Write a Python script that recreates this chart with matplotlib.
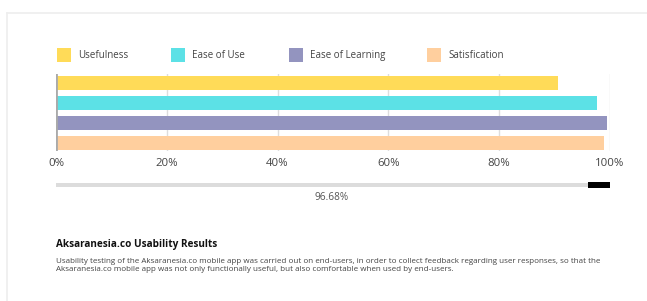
import matplotlib.pyplot as plt
from matplotlib.patches import Rectangle
import numpy as np

plt.rcParams['font.family'] = ['Open Sans', 'DejaVu Sans']

# data
categories = ['Usefulness', 'Ease of Use', 'Ease of Learning', 'Satisfication']
values = [90.7, 97.6, 99.4, 99.0]
colors = ['#FFDB58', '#5CE1E6', '#9394BF', '#FFCF9E']
xticks = [0, 20, 40, 60, 80, 100]
score = np.mean(values)
thumb = [96, 100]
title = 'Aksaranesia.co Usability Results'
desc = ['Usability testing of the Aksaranesia.co mobile app was carried out on end-users, in order to collect feedback regarding user responses, so that the',
        'Aksaranesia.co mobile app was not only functionally useful, but also comfortable when used by end-users.']

W, H = 647, 301
fig = plt.figure(figsize=(W / 100, H / 100), dpi=100)
fig.patch.set_facecolor('white')

def fx(px):
    return px / W

def fy(py):
    return 1 - py / H

# card border
fig.add_artist(plt.Line2D([fx(7), 1], [fy(13), fy(13)], color='#eeeeee', lw=1.2))
fig.add_artist(plt.Line2D([fx(7), fx(7)], [fy(13), 0], color='#eeeeee', lw=1.2))

# legend drawn by hand
leg_x = [57, 171, 289, 427]
for lx, lab, c in zip(leg_x, categories, colors):
    fig.add_artist(Rectangle((fx(lx), fy(62)), fx(14), 14 / H, color=c, lw=0))
    fig.text(fx(lx + 21), fy(55.5), lab, fontsize=7, color='#444444', va='center')

# bars
ax = fig.add_axes([fx(56), fy(151), fx(554), 77 / H])
y = np.arange(len(categories))
ax.barh(y, values, height=0.7, color=colors, zorder=3)
ax.set_xlim(0, 100)
ax.set_ylim(3.4, -0.45)
ax.set_xticks(xticks)
ax.set_xticklabels([f'{t}%' for t in xticks], fontsize=8.2, color='#444444')
ax.tick_params(axis='x', length=0, pad=5)
ax.set_yticks([])
for t in xticks[1:-1]:
    ax.axvline(t, color='#dddddd', lw=1, zorder=1)
ax.axvline(100, color='#e2e2e2', lw=1, zorder=1)
ax.axvline(0, color='#aaaaaa', lw=2, zorder=4)
for s in ax.spines.values():
    s.set_visible(False)

# progress bar
pb = fig.add_axes([fx(56), fy(188), fx(554), 6 / H])
pb.barh([0], [100], height=0.8, color='#dcdcdc')
pb.barh([0], [thumb[1] - thumb[0]], left=thumb[0], height=1.0, color='#000000')
pb.set_xlim(0, 100)
pb.set_ylim(-0.5, 0.5)
pb.axis('off')
fig.text(fx(332), fy(198), f'{score:.2f}%', fontsize=7.2, color='#555555', ha='center', va='center')

# caption
fig.text(fx(56), fy(245), title, fontsize=7.2, fontweight='bold', color='#111111', va='center')
fig.text(fx(56), fy(261.5), desc[0], fontsize=5.75, color='#444444', va='center')
fig.text(fx(56), fy(269.5), desc[1], fontsize=5.75, color='#444444', va='center')

fig.savefig('out.png', dpi=100)
